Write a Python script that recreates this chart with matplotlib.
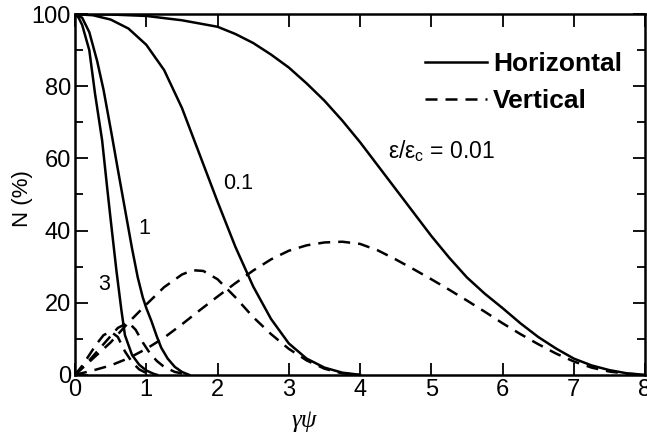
import matplotlib.pyplot as plt
from matplotlib.ticker import MultipleLocator

# values (x = gamma*psi, y = N in %)
# eps/eps_c = 0.01
h001_x = [0, 0.5, 1, 1.5, 2, 2.25, 2.5, 2.75, 3, 3.25, 3.5, 3.75, 4, 4.25, 4.5, 4.75,
          5, 5.25, 5.5, 5.75, 6, 6.25, 6.5, 6.75, 7, 7.25, 7.5, 7.75, 8]
h001_y = [100, 99.9, 99.5, 98.3, 96.5, 94.5, 92, 88.8, 85.2, 80.8, 76, 70.5, 64.5, 58,
          51.5, 45, 38.5, 32.5, 27, 22.5, 18.5, 14.3, 10.5, 7.3, 4.5, 2.6, 1.3, 0.4, 0]
v001_x = [0, 0.25, 0.5, 0.75, 1, 1.25, 1.5, 1.75, 2, 2.25, 2.5, 2.75, 3, 3.25, 3.5, 3.75,
          4, 4.25, 4.5, 4.75, 5, 5.25, 5.5, 5.75, 6, 6.25, 6.5, 6.75, 7, 7.25, 7.5, 7.75, 8]
v001_y = [0, 1.2, 2.6, 4.6, 7.2, 10.3, 14.0, 17.9, 21.7, 25.4, 28.9, 32, 34.4, 35.9, 36.7,
          36.9, 36.3, 34.5, 32, 29.3, 26.5, 23.6, 20.6, 17.5, 14.3, 11.3, 8.5, 5.9, 3.7,
          2, 0.9, 0.3, 0]

# eps/eps_c = 0.1
h01_x = [0, 0.25, 0.5, 0.75, 1, 1.25, 1.5, 1.75, 2, 2.25, 2.5, 2.75, 3, 3.25, 3.5, 3.75, 4]
h01_y = [100, 99.7, 98.5, 96, 91.5, 84.5, 74, 61, 48, 35.5, 24.5, 15.5, 8.7, 4.5, 2, 0.6, 0]
v01_x = [0, 0.25, 0.5, 0.75, 1, 1.25, 1.5, 1.65, 1.8, 2, 2.25, 2.5, 2.75, 3, 3.25, 3.5, 3.75, 4]
v01_y = [0, 4.5, 9, 14.5, 19.5, 24.3, 27.8, 29, 28.8, 26.5, 21.5, 16, 11.3, 7.2, 4, 1.7, 0.4, 0]

# eps/eps_c = 1
h1_x = [0, 0.1, 0.2, 0.31, 0.4, 0.52, 0.6, 0.7, 0.8, 0.88, 0.95, 1.0, 1.07, 1.15, 1.21,
        1.3, 1.4, 1.5, 1.6]
h1_y = [100, 99, 95, 87, 79, 66, 57, 46, 35, 27, 21.5, 18.5, 15, 10.5, 7.5, 4.5, 2.2, 0.8, 0]
v1_x = [0, 0.2, 0.4, 0.6, 0.75, 0.85, 0.95, 1.05, 1.15, 1.25, 1.4, 1.6]
v1_y = [0, 4, 8.5, 13, 14.5, 12.5, 9, 6, 3.8, 2.2, 0.8, 0]

# eps/eps_c = 3
h3_x = [0, 0.05, 0.1, 0.2, 0.28, 0.38, 0.45, 0.5, 0.58, 0.65, 0.7, 0.8, 0.9, 1.0, 1.1, 1.15]
h3_y = [100, 99, 97, 90, 78, 65, 52, 43, 29, 18, 11, 5.5, 2.8, 1.2, 0.3, 0]
v3_x = [0, 0.1, 0.2, 0.3, 0.4, 0.5, 0.6, 0.7, 0.8, 0.9, 1.0, 1.1]
v3_y = [0, 2.5, 5.5, 8.5, 11, 12, 10.5, 6.5, 3.5, 1.5, 0.5, 0]

curve_labels = ['0.1', '1', '3']
label_x = [2.29, 0.97, 0.41]
label_y = [53, 40.7, 25]

plt.rcParams['font.family'] = ['Liberation Sans', 'DejaVu Sans']
plt.rcParams['mathtext.fontset'] = 'custom'
plt.rcParams['mathtext.rm'] = 'Liberation Sans'

dash = (0, (4.8, 3.2))
lw = 1.8


def main():
    fig = plt.figure(figsize=(6.47, 4.42), dpi=100)
    ax = fig.add_axes([0.116, 0.152, 0.881, 0.816])

    for hx, hy in [(h001_x, h001_y), (h01_x, h01_y), (h1_x, h1_y), (h3_x, h3_y)]:
        ax.plot(hx, hy, color='black', lw=lw, solid_joinstyle='round')
    for vx, vy in [(v001_x, v001_y), (v01_x, v01_y), (v1_x, v1_y), (v3_x, v3_y)]:
        ax.plot(vx, vy, color='black', lw=lw, linestyle=dash)

    ax.plot([], [], color='black', lw=lw, label='Horizontal')
    ax.plot([], [], color='black', lw=lw, linestyle=dash, label='Vertical')

    for t, x, y in zip(curve_labels, label_x, label_y):
        ax.text(x, y, t, fontsize=15.5, ha='center', va='center')
    ax.text(5.15, 62, r'ε/ε$_\mathrm{c}$ = 0.01', fontsize=16.5, ha='center', va='center')

    ax.set_xlim(0, 8)
    ax.set_ylim(0, 100)
    ax.xaxis.set_major_locator(MultipleLocator(1))
    ax.yaxis.set_major_locator(MultipleLocator(20))
    ax.yaxis.set_minor_locator(MultipleLocator(10))
    ax.tick_params(which='both', direction='in', top=True, right=True,
                   width=1.3, labelsize=17)
    ax.tick_params(which='major', length=9, pad=3)
    ax.tick_params(which='minor', length=6)
    for s in ax.spines.values():
        s.set_linewidth(1.8)

    ax.text(-0.093, 0.49, 'N (%)', fontsize=16, rotation=90, ha='center', va='center',
            transform=ax.transAxes)
    ax.text(0.402, -0.127, 'γψ', fontsize=18, family='Liberation Serif', style='italic',
            ha='center', va='center', transform=ax.transAxes)

    ax.legend(loc='upper left', bbox_to_anchor=(0.614, 0.895), frameon=False,
              prop={'weight': 'bold', 'size': 19}, handlelength=2.35,
              handletextpad=0.23, labelspacing=0.5, borderpad=0, borderaxespad=0)

    fig.savefig('out.png', dpi=100, facecolor='white')


if __name__ == '__main__':
    main()
